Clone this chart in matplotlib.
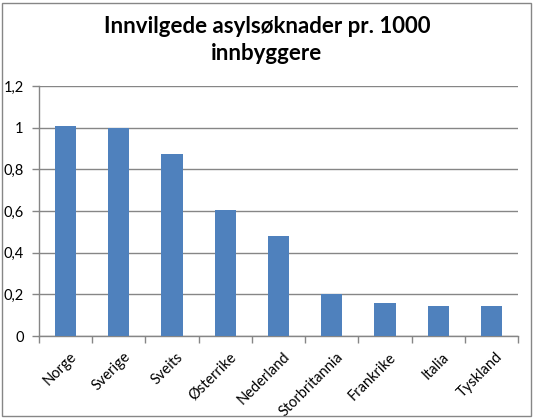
import numpy as np
import matplotlib.pyplot as plt
from matplotlib.patches import Rectangle

countries = ["Norge", "Sverige", "Sveits", "Østerrike", "Nederland",
             "Storbritannia", "Frankrike", "Italia", "Tyskland"]
values = [1.008, 0.998, 0.874, 0.605, 0.481, 0.202, 0.158, 0.144, 0.144]
yticks = [0, 0.2, 0.4, 0.6, 0.8, 1.0, 1.2]
ytick_labels = ["0", "0,2", "0,4", "0,6", "0,8", "1", "1,2"]
title = "Innvilgede asylsøknader pr. 1000\ninnbyggere"

plt.rcParams['font.family'] = ['Lato', 'DejaVu Sans']
grey = '#868686'

W, H = 534, 418
fig = plt.figure(figsize=(W / 100, H / 100), dpi=100)
# plot area in pixels: left 39, right 518, top 86, bottom 336
ax = fig.add_axes([39 / W, 1 - 336 / H, (518 - 39) / W, (336 - 86) / H])

x = np.arange(len(countries))
ax.bar(x, values, width=0.4, color='#4F81BD', zorder=3)

ax.set_xlim(-0.5, len(countries) - 0.5)
ax.set_ylim(0, 1.2)
ax.set_yticks(yticks)
ax.set_yticklabels(ytick_labels, fontsize=10.5)
ax.yaxis.grid(True, color=grey, linewidth=1.0, zorder=0)

# category ticks between bars
ax.set_xticks(np.arange(-0.5, len(countries), 1.0))
ax.set_xticklabels([])
ax.tick_params(axis='x', length=5, color=grey, width=1)
ax.tick_params(axis='y', length=5, color=grey, width=1, pad=6)

for i, name in enumerate(countries):
    ax.annotate(name, xy=(i, 0), xycoords='data', xytext=(3, -10),
                textcoords='offset points', rotation=45, ha='right', va='top',
                rotation_mode='anchor', fontsize=10.5)

for side in ['top', 'right']:
    ax.spines[side].set_visible(False)
for side in ['left', 'bottom']:
    ax.spines[side].set_color(grey)
    ax.spines[side].set_linewidth(1.0)

fig.text(0.5, 1 - 40 / H, title, ha='center', va='center', fontsize=16,
         fontweight='bold', linespacing=1.3)

# chart border
fig.patches.append(Rectangle((2 / W, 2 / H), (W - 5) / W, (H - 5) / H,
                             transform=fig.transFigure, fill=False,
                             edgecolor=grey, linewidth=1.0))

fig.savefig('out.png', dpi=100)
